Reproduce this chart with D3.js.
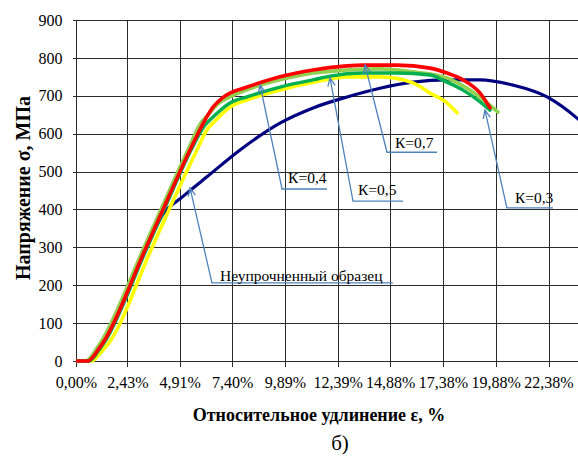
<!DOCTYPE html>
<html>
<head>
<meta charset="utf-8">
<script src="https://cdn.jsdelivr.net/npm/d3@7/dist/d3.min.js"></script>
<style>
  html, body { margin: 0; padding: 0; background: #fff; }
  svg { display: block; }
</style>
</head>
<body>
<svg id="chart" width="578" height="461"></svg>
<script>
// Tick labels
const strainTicks = [0, 2.43, 4.91, 7.40, 9.89, 12.39, 14.88, 17.38, 19.88, 22.38];
const stressTicks = [0, 100, 200, 300, 400, 500, 600, 700, 800, 900];

// Stress–strain curves: [strain %, stress MPa]
const unhardened = [
  [0, 0], [0.57, 0], [0.81, 11], [1.04, 29], [1.28, 48], [3.27, 293], [3.74, 348],
  [4.12, 388], [4.55, 412], [4.93, 428], [5.40, 450], [6.20, 486], [7.77, 557],
  [9.66, 628], [11.23, 668], [12.84, 697], [14.40, 720], [15.96, 736], [17.57, 742],
  [19.14, 742], [20.70, 728], [22.31, 697], [23.73, 641], [24.82, 583]
];
const k05 = [
  [0, 0], [0.76, 0], [0.99, 11], [1.28, 29], [1.56, 48], [3.55, 293], [4.55, 417],
  [5.73, 557], [6.20, 610], [6.49, 628], [7.29, 670], [8.10, 689], [9.66, 715],
  [11.23, 736], [12.84, 750], [14.40, 750], [15.96, 734], [16.77, 707], [17.57, 681],
  [18.05, 655]
];
const k04 = [
  [0, 0], [0.47, 0], [0.71, 11], [0.94, 30], [1.18, 50], [3.17, 293], [4.16, 417],
  [5.30, 557], [5.95, 631], [6.25, 649], [6.70, 678], [7.29, 697], [8.72, 728],
  [9.66, 742], [11.23, 760], [12.84, 768], [14.40, 771], [15.96, 763], [17.57, 747],
  [18.66, 715], [19.47, 681], [19.99, 657]
];
const k03 = [
  [0, 0], [0.62, 0], [0.86, 11], [1.09, 29], [1.33, 48], [3.32, 293], [4.31, 417],
  [5.45, 557], [6.11, 623], [6.49, 644], [7.29, 681], [8.10, 697], [9.66, 723],
  [11.23, 742], [12.03, 752], [13.59, 760], [15.20, 760], [16.77, 755], [17.57, 736],
  [18.33, 715], [19.14, 684], [19.61, 662]
];
const k07 = [
  [0, 0], [0.57, 0], [0.81, 11], [1.04, 29], [1.28, 48], [3.27, 293], [4.26, 417],
  [5.40, 557], [6.11, 636], [6.49, 670], [6.92, 694], [7.29, 707], [8.10, 723],
  [9.66, 750], [11.23, 768], [12.84, 779], [13.59, 781], [15.20, 781], [16.77, 773],
  [17.57, 760], [18.33, 742], [19.14, 707], [19.61, 668]
];

// Callouts: arrow tip, bend, end of shelf (strain %, MPa)
const callouts = [
  { text: "Неупрочненный образец", tip: [5.40, 457], bend: [6.44, 206], end: [15.01, 206], dx: 8, dy: -2 },
  { text: "К=0,4", tip: [8.72, 728], bend: [9.76, 454], end: [11.89, 454], dx: 6, dy: -6 },
  { text: "К=0,5", tip: [12.03, 747], bend: [13.12, 422], end: [15.49, 422], dx: 5, dy: -6 },
  { text: "К=0,7", tip: [13.69, 781], bend: [14.73, 551], end: [17.10, 551], dx: 8, dy: -4 },
  { text: "К=0,3", tip: [19.37, 662], bend: [20.41, 404], end: [22.59, 404], dx: 8, dy: -5 }
];

const W = 578, H = 461;
const plotL = 76, plotT = 20, plotB = 361, plotR = 578;
const serif = "'Liberation Serif', 'Times New Roman', Tinos, 'DejaVu Serif', serif";

const x = d3.scaleLinear().domain([0, 22.38]).range([plotL, 548.5]);
const y = d3.scaleLinear().domain([0, 900]).range([plotB, plotT]);

const svg = d3.select("#chart");
svg.append("rect").attr("width", W).attr("height", H).attr("fill", "#fff");

svg.append("clipPath").attr("id", "plot")
  .append("rect").attr("x", plotL).attr("y", plotT - 5).attr("width", plotR - plotL).attr("height", plotB - plotT + 10);

// Grid
const gridColor = "#2a2a2a";
const grid = svg.append("g").attr("shape-rendering", "crispEdges");
grid.selectAll("line.h").data(stressTicks.slice(1)).join("line")
  .attr("x1", plotL).attr("x2", plotR)
  .attr("y1", d => Math.round(y(d)) + 0.5).attr("y2", d => Math.round(y(d)) + 0.5)
  .attr("stroke", gridColor).attr("stroke-width", 1);
grid.selectAll("line.v").data(strainTicks.slice(1)).join("line")
  .attr("y1", plotT).attr("y2", plotB)
  .attr("x1", d => Math.round(x(d)) + 0.5).attr("x2", d => Math.round(x(d)) + 0.5)
  .attr("stroke", gridColor).attr("stroke-width", 1);

// Axes
const yAxis = d3.axisLeft(y).tickValues(stressTicks).tickSize(4).tickPadding(10).tickFormat(d3.format("d"));
const xAxis = d3.axisBottom(x).tickValues(strainTicks).tickSize(5).tickPadding(10)
  .tickFormat(d => d.toFixed(2).replace(".", ",") + "%");

const gy = svg.append("g").attr("transform", `translate(${plotL + 0.5},0)`).call(yAxis);
const gx = svg.append("g").attr("transform", `translate(0,${plotB + 0.5})`).call(xAxis);
[gx, gy].forEach(g => {
  g.attr("font-family", null).attr("font-size", null);
  g.selectAll("path.domain").remove();
  g.selectAll(".tick line").attr("stroke", gridColor).attr("shape-rendering", "crispEdges");
  g.selectAll(".tick text")
    .style("font-family", serif).style("font-size", "16px").attr("fill", "#000");
});
svg.append("line").attr("x1", plotL + 0.5).attr("x2", plotL + 0.5).attr("y1", plotT).attr("y2", plotB + 1)
  .attr("stroke", gridColor).attr("shape-rendering", "crispEdges");
svg.append("line").attr("x1", plotL).attr("x2", plotR).attr("y1", plotB + 0.5).attr("y2", plotB + 0.5)
  .attr("stroke", gridColor).attr("shape-rendering", "crispEdges");

// Curves
const line = d3.line().x(d => x(d[0])).y(d => y(d[1])).curve(d3.curveMonotoneX);
const series = [
  { data: unhardened, color: "#000080", w: 3.2 },
  { data: k05, color: "#FFFF00", w: 3.6 },
  { data: k04, color: "#92D050", w: 3.6 },
  { data: k03, color: "#00B050", w: 3.4 },
  { data: k07, color: "#FF0000", w: 3.6 }
];
const curves = svg.append("g").attr("clip-path", "url(#plot)");
curves.selectAll("path").data(series).join("path")
  .attr("d", d => line(d.data))
  .attr("fill", "none")
  .attr("stroke", d => d.color)
  .attr("stroke-width", d => d.w)
  .attr("stroke-linejoin", "round")
  .attr("stroke-linecap", "round");

// Callout arrows and labels
const calloutColor = "#4F81BD";
const cg = svg.append("g");
callouts.forEach(c => {
  const tip = [x(c.tip[0]), y(c.tip[1])];
  const bend = [x(c.bend[0]), y(c.bend[1])];
  const end = [x(c.end[0]), y(c.end[1])];
  cg.append("polyline")
    .attr("points", [tip, bend, end].map(p => p.join(",")).join(" "))
    .attr("fill", "none").attr("stroke", calloutColor).attr("stroke-width", 1.3);
  const ang = Math.atan2(bend[1] - tip[1], bend[0] - tip[0]);
  const len = 9, spread = 0.42;
  const a1 = [tip[0] + len * Math.cos(ang + spread), tip[1] + len * Math.sin(ang + spread)];
  const a2 = [tip[0] + len * Math.cos(ang - spread), tip[1] + len * Math.sin(ang - spread)];
  cg.append("polyline")
    .attr("points", [a1, tip, a2].map(p => p.join(",")).join(" "))
    .attr("fill", "none").attr("stroke", calloutColor).attr("stroke-width", 1.3);
  cg.append("text")
    .attr("x", bend[0] + c.dx).attr("y", end[1] + c.dy)
    .style("font-family", serif).style("font-size", "15.5px")
    .text(c.text);
});

// Axis titles
svg.append("text")
  .attr("x", 319).attr("y", 421)
  .attr("text-anchor", "middle")
  .style("font-family", serif).style("font-size", "18px").style("font-weight", "bold")
  .text("Относительное удлинение ε, %");
svg.append("text")
  .attr("transform", "translate(30,188) rotate(-90)")
  .attr("text-anchor", "middle")
  .style("font-family", serif).style("font-size", "20px").style("font-weight", "bold")
  .text("Напряжение σ, МПа");
svg.append("text")
  .attr("x", 340).attr("y", 450)
  .attr("text-anchor", "middle")
  .style("font-family", serif).style("font-size", "21px")
  .text("б)");
</script>
</body>
</html>
